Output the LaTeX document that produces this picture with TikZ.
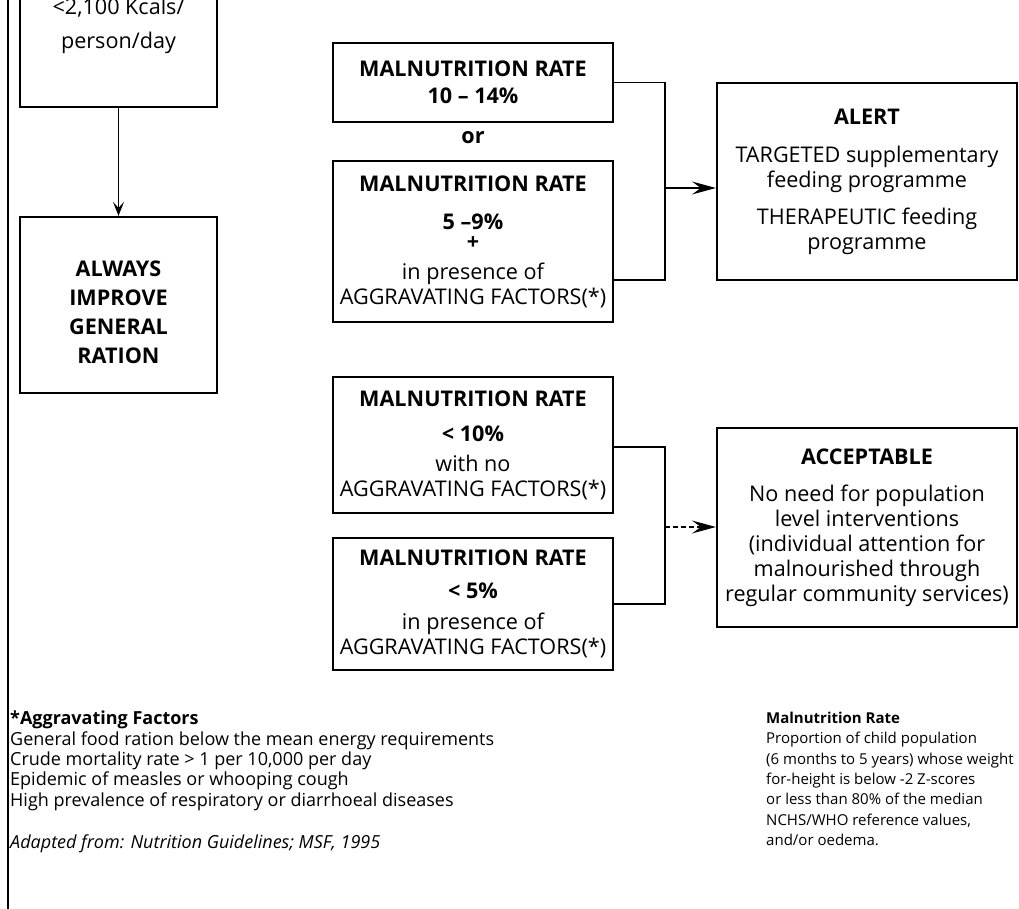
\documentclass[tikz,border=0pt]{standalone}
\usepackage{fontspec}
\setmainfont{Open Sans}
\usetikzlibrary{arrows.meta}
\newcommand{\boxfont}{\fontsize{21.6}{25}\selectfont}

\begin{document}
\begin{tikzpicture}[x=1pt,y=-1pt,
  box/.style={draw,line width=2.2pt,align=center,inner sep=0pt,font=\boxfont},
  link/.style={line width=1.6pt},
  arr/.style={link,-{Stealth[length=24pt,width=13pt,inset=9pt]}},
  note/.style={anchor=north west,align=left,inner sep=0pt}]
  \clip (0,0) rectangle (1019,909);
  % frame line on the left
  \draw[line width=2pt] (8,-5) -- (8,915);
  % general ration column
  \node[box,minimum width=197,minimum height=162,
    font=\fontsize{21.6}{34}\selectfont] (kcal) at (118.5,26)
    {<2,100 Kcals/\\person/day};
  \node[box,minimum width=197,minimum height=176,text height=117pt,
    font=\fontsize{21.6}{29}\selectfont\bfseries] (ration) at (118.5,305)
    {ALWAYS\\IMPROVE\\GENERAL\\RATION};
  \draw[link,-{Stealth[length=14pt,width=11pt,inset=6pt]}] (kcal) -- (ration);
  % alert conditions
  \node[box,minimum width=280,minimum height=79] (r1) at (473,82.5)
    {\bfseries MALNUTRITION RATE\\[2pt]\bfseries 10 -- 14\%};
  \node[font=\boxfont\bfseries] (or) at (473,138) {or};
  \node[box,minimum width=280,minimum height=161] (r2) at (473,241.5)
    {\bfseries MALNUTRITION RATE\\[13pt]\bfseries 5 --9\%\\[-5pt]\bfseries +\\[5pt]
     in presence of\\AGGRAVATING FACTORS(*)};
  % acceptable conditions
  \node[box,minimum width=280,minimum height=136] (r3) at (473,445)
    {\bfseries MALNUTRITION RATE\\[10pt]\bfseries < 10\%\\[5pt]with no\\
     AGGRAVATING FACTORS(*)};
  \node[box,minimum width=280,minimum height=132] (r4) at (473,604)
    {\bfseries MALNUTRITION RATE\\[8pt]\bfseries < 5\%\\[6pt]in presence of\\
     AGGRAVATING FACTORS(*)};
  % outcomes
  \node[box,minimum width=300,minimum height=197] (alert) at (867,181.5)
    {\bfseries ALERT\\[13pt]TARGETED supplementary\\feeding programme\\[12pt]
     THERAPEUTIC feeding\\programme};
  \node[box,minimum width=300,minimum height=199] (acc) at (867,527.5)
    {\bfseries ACCEPTABLE\\[12pt]No need for population\\level interventions\\
     (individual attention for\\malnourished through\\regular community services)};
  % brackets and arrows
  \coordinate (j1) at (665,188);
  \coordinate (j2) at (665,527);
  \draw[link] (r1.east) -| (j1) |- (r2.east |- 0,280);
  \draw[arr] (j1) -- (alert.west |- j1);
  \draw[link] (r3.east |- 0,447) -| (j2) |- (r4.east);
  \draw[arr,dash pattern=on 5pt off 3pt] (j2) -- (acc.west |- j2);
  % notes
  \node[note,font=\fontsize{18}{20.3}\selectfont] (factors) at (10,711)
    {\textbf{*Aggravating Factors}\\
     General food ration below the mean energy requirements\\
     Crude mortality rate > 1 per 10,000 per day\\
     Epidemic of measles or whooping cough\\
     High prevalence of respiratory or diarrhoeal diseases\\[22pt]
     \textit{Adapted from: Nutrition Guidelines; MSF, 1995}};
  \node[note,font=\fontsize{15}{20.3}\selectfont] (rate) at (766,712)
    {\textbf{Malnutrition Rate}\\
     Proportion of child population\\
     (6 months to 5 years) whose weight\\
     for-height is below -2 Z-scores\\
     or less than 80\% of the median\\
     NCHS/WHO reference values,\\
     and/or oedema.};
\end{tikzpicture}
\end{document}
